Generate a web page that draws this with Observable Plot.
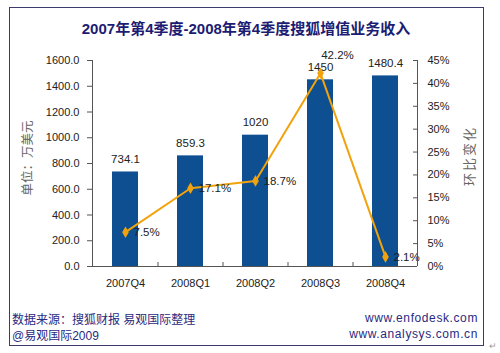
<!DOCTYPE html>
<html><head><meta charset="utf-8">
<script src="https://cdn.jsdelivr.net/npm/d3@7"></script>
<script src="https://cdn.jsdelivr.net/npm/@observablehq/plot@0.6"></script>
<style>
body{margin:0;background:#fff}
#chart{width:500px;height:353px;position:relative}
</style>
</head><body><div id="chart"></div>
<script>
const quarters = ["2007Q4","2008Q1","2008Q2","2008Q3","2008Q4"];
const revenue = [734.1, 859.3, 1020, 1450, 1480.4];
const revenueLabels = ["734.1","859.3","1020","1450","1480.4"];
const growth = [7.5, 17.1, 18.7, 42.2, 2.1];
const growthLabels = ["7.5%","17.1%","18.7%","42.2%","2.1%"];
const leftTicks = [0,200,400,600,800,1000,1200,1400,1600];
const rightTicks = [0,5,10,15,20,25,30,35,40,45];
const titleText = "2007年第4季度-2008年第4季度搜狐增值业务收入";
const leftAxisTitle = "单位：万美元";
const rightAxisTitle = "环比变化";
const sourceLines = ["数据来源：搜狐财报 易观国际整理", "@易观国际2009"];
const urlLines = ["www.enfodesk.com", "www.analysys.com.cn"];

const W = 500, H = 353;
const mL = 92, mR = 83, mT = 60, mB = 87;
const plotW = W - mL - mR, plotH = H - mT - mB;
const step = plotW / quarters.length;
const K = 1600 / 45; // map percent onto the revenue axis
const barColor = "#0d4f90";
const lineColor = "#f2a20c";
const font = "'Liberation Sans', Arial, sans-serif";
const cjk = "'Noto Sans CJK SC', sans-serif";

const rows = quarters.map((q, i) => ({
  q, rev: revenue[i], revLabel: revenueLabels[i],
  gy: growth[i] * K, gLabel: growthLabels[i], peak: growth[i] === d3.max(growth)
}));

const plot = Plot.plot({
  width: W, height: H,
  marginLeft: mL, marginRight: mR, marginTop: mT, marginBottom: mB,
  style: {fontFamily: font, fontSize: "11px", color: "#222", background: "white"},
  x: {domain: quarters, paddingInner: 0.6, paddingOuter: 0.3, label: null},
  y: {domain: [0, 1600], label: null},
  marks: [
    Plot.barY(rows, {x: "q", y: "rev", fill: barColor}),
    Plot.axisX({tickSize: 0, tickPadding: 13, fontSize: 11, fill: "#222"}),
    Plot.axisY({ticks: leftTicks, tickFormat: d3.format(".1f"), tickSize: 5, tickPadding: 8, stroke: "#555", fontSize: 11, fill: "#222"}),
    Plot.axisY({anchor: "right", ticks: rightTicks.map(p => p * K), tickFormat: d => Math.round(d / K) + "%", tickSize: 0, tickPadding: 10, fontSize: 11, fill: "#222"}),
    Plot.tickY(rightTicks.map(p => p * K), {y: d => d, insetLeft: plotW - 4, stroke: "#555"}),
    Plot.tickX(quarters.slice(0, -1), {x: d => d, dx: step / 2, insetTop: plotH - 4, stroke: "#555"}),
    Plot.ruleY([0], {stroke: "#555"}),
    Plot.text(rows, {x: "q", y: "rev", text: "revLabel", dy: -13, fontSize: 11.5, fill: "#222"}),
    Plot.line(rows, {x: "q", y: "gy", stroke: lineColor, strokeWidth: 2}),
    Plot.dot(rows, {x: "q", y: "gy", symbol: "diamond", r: 3.5, fill: lineColor}),
    Plot.text(rows.filter(d => !d.peak), {x: "q", y: "gy", text: "gLabel", dx: 8, textAnchor: "start", fontSize: 11.5, fill: "#222"}),
    Plot.text(rows.filter(d => d.peak), {x: "q", y: "gy", text: "gLabel", dx: 17, dy: -18, fontSize: 11.5, fill: "#222"})
  ]
});

const svg = d3.select(plot);
const xr = plot.scale("x").range, yr = plot.scale("y").range;
// vertical axis lines
[xr[0] + 0.5, xr[1] + 0.5].forEach(x => {
  svg.append("line").attr("x1", x).attr("x2", x).attr("y1", yr[0]).attr("y2", yr[1]).attr("stroke", "#555");
});
// border
svg.append("rect").attr("x", 9.5).attr("y", 7.5).attr("width", 474).attr("height", 338)
  .attr("fill", "none").attr("stroke", "#3d3a6c");
// title
svg.append("text").attr("x", 246).attr("y", 34).attr("text-anchor", "middle")
  .attr("font-family", "'Liberation Sans', 'Noto Sans CJK SC', sans-serif").attr("font-weight", "bold")
  .attr("font-size", 15).attr("fill", "#1c1c72").text(titleText);
// axis titles
svg.append("text").attr("transform", "translate(26,158) rotate(-90)").attr("text-anchor", "middle")
  .attr("dominant-baseline", "central").attr("font-family", cjk).attr("font-size", 12.5)
  .attr("fill", "#666").text(leftAxisTitle);
svg.append("text").attr("transform", "translate(468,156) rotate(-90)").attr("text-anchor", "middle")
  .attr("dominant-baseline", "central").attr("font-family", cjk).attr("font-size", 13)
  .attr("letter-spacing", 2).attr("fill", "#666").text(rightAxisTitle);
// footer
sourceLines.forEach((t, i) => {
  svg.append("text").attr("x", 12).attr("y", 324 + i * 16).attr("text-anchor", "start")
    .attr("font-family", "'Liberation Sans', 'Noto Sans CJK SC', sans-serif")
    .attr("font-size", 12).attr("fill", "#2a2a80").text(t);
});
urlLines.forEach((t, i) => {
  svg.append("text").attr("x", 478).attr("y", 322 + i * 16).attr("text-anchor", "end").attr("font-family", font)
    .attr("font-size", 12).attr("letter-spacing", 0.6).attr("fill", "#2a2a80").text(t);
});
svg.append("text").attr("x", 489).attr("y", 349).attr("text-anchor", "start").attr("font-size", 9).attr("fill", "#999").text("↵");

document.getElementById("chart").appendChild(plot);
</script>
</body></html>
